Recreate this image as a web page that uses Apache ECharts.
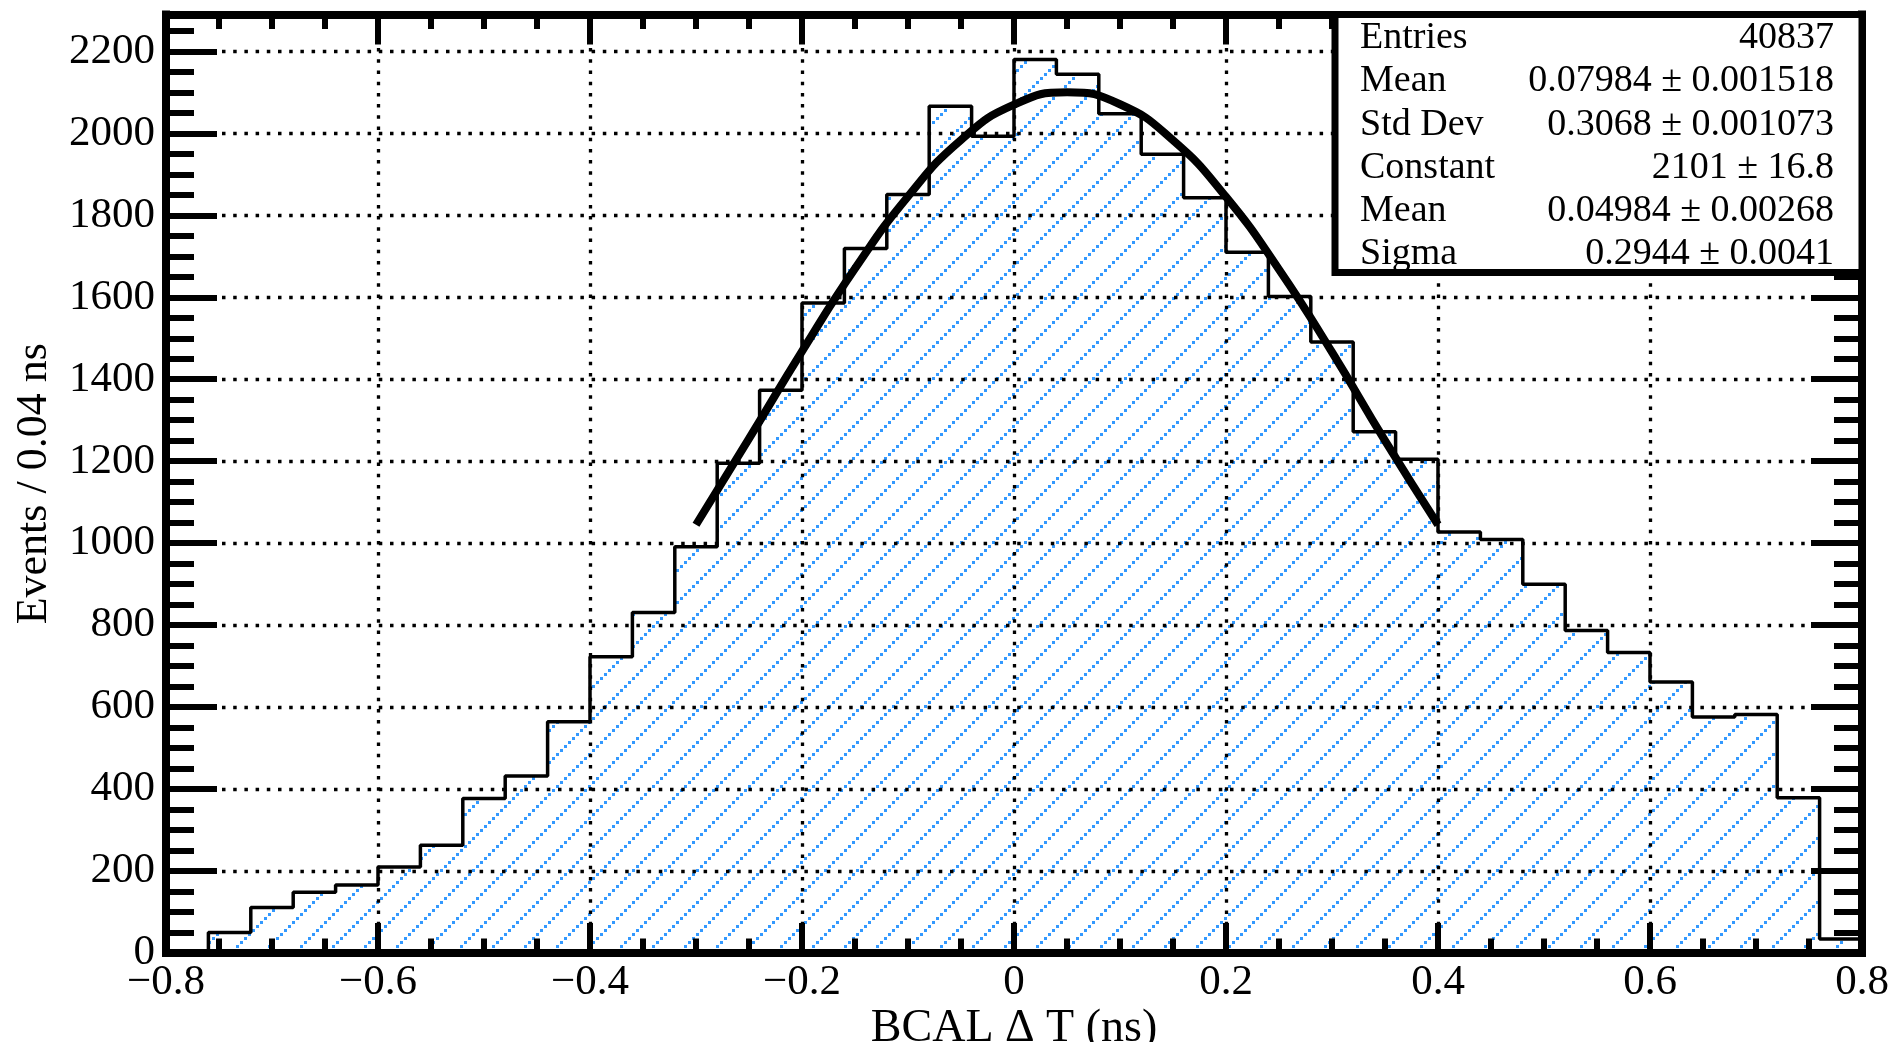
<!DOCTYPE html>
<html><head><meta charset="utf-8">
<script src="https://cdn.jsdelivr.net/npm/echarts@6/dist/echarts.min.js"></script>
<style>html,body{margin:0;padding:0;background:#fff}#c{width:1892px;height:1042px}</style>
</head><body><div id="c"></div>
<script>
// ---- data ----
const binLow = [-0.80,-0.76,-0.72,-0.68,-0.64,-0.60,-0.56,-0.52,-0.48,-0.44,
                -0.40,-0.36,-0.32,-0.28,-0.24,-0.20,-0.16,-0.12,-0.08,-0.04,
                 0.00, 0.04, 0.08, 0.12, 0.16, 0.20, 0.24, 0.28, 0.32, 0.36,
                 0.40, 0.44, 0.48, 0.52, 0.56, 0.60, 0.64, 0.68, 0.72, 0.76];
const binEnd = 0.80;
const counts = [0, 50, 111, 148, 166, 210, 263, 377, 432, 564,
                723, 831, 991, 1195, 1373, 1586, 1719, 1851, 2066, 1993,
                2180, 2144, 2048, 1949, 1843, 1710, 1602, 1491, 1272, 1205,
                1027, 1009, 900, 787, 733, 661, 576, 582, 379, 34];
const fitX = [-0.30,-0.25,-0.20,-0.15,-0.10,-0.05,0.00,0.05,0.10,0.15,0.20,0.25,0.30,0.35,0.40];
const fitY = [1045, 1255, 1468, 1670, 1846, 1984, 2070, 2100, 2071, 1983, 1845, 1668, 1466, 1250, 1045];
const statNames  = ['Entries', 'Mean', 'Std Dev', 'Constant', 'Mean', 'Sigma'];
const statValues = ['40837', '0.07984 \u00b1 0.001518', '0.3068 \u00b1 0.001073',
                    '2101 \u00b1 16.8', '0.04984 \u00b1 0.00268', '0.2944 \u00b1 0.0041'];
const xTitle = 'BCAL \u0394 T (ns)';
const yTitle = 'Events / 0.04 ns';

// ---- hatch pattern ----
function hatch() {
  const T = 32;
  const c = document.createElement('canvas');
  c.width = T; c.height = T;
  const g = c.getContext('2d');
  g.fillStyle = '#3399ff';
  for (let k = 0; k < T / 4; k++) g.fillRect(4 * k, T - 4 * k - 3, 3, 3);
  return c;
}

const histPts = binLow.map((x, i) => [x, counts[i]]).concat([[binEnd, counts[counts.length - 1]]]);
const fitPts = fitX.map((x, i) => [x, fitY[i]]);

const FONT = 'Liberation Serif';
const frameLine = { show: true, onZero: false, lineStyle: { color: '#000', width: 8, cap: 'square' } };
const dotted = { show: true, lineStyle: { color: '#000', width: 3.3, type: [3.5, 7.7] } };
const fmtX = v => { const s = String(+(+v).toFixed(2)); return s.replace('-', '\u2212'); };

const chart = echarts.init(document.getElementById('c'), null, { renderer: 'canvas' });
chart.setOption({
  animation: false,
  backgroundColor: '#fff',
  grid: { left: 166, right: 30, top: 14.5, bottom: 89, containLabel: false, outerBoundsMode: 'none' },
  xAxis: [
    { type: 'value', position: 'bottom', min: -0.8, max: 0.8, interval: 0.2, z: 3,
      axisLine: frameLine,
      axisTick: { show: true, inside: true, length: 30, lineStyle: { color: '#000', width: 6 } },
      minorTick: { show: true, splitNumber: 4, length: 14.5, lineStyle: { color: '#000', width: 6 } },
      splitLine: dotted,
      axisLabel: { show: true, margin: 8, color: '#000', fontFamily: FONT, fontSize: 43, formatter: fmtX },
      name: xTitle, nameLocation: 'middle', nameGap: 53, nameMoveOverlap: false,
      nameTextStyle: { color: '#000', fontFamily: FONT, fontSize: 46 } },
    { type: 'value', position: 'top', min: -0.8, max: 0.8, interval: 0.2, z: 3,
      axisLine: frameLine,
      axisTick: { show: true, inside: true, length: 30, lineStyle: { color: '#000', width: 6 } },
      minorTick: { show: true, splitNumber: 4, length: 14.5, lineStyle: { color: '#000', width: 6 } },
      splitLine: { show: false }, axisLabel: { show: false } }
  ],
  yAxis: [
    { type: 'value', position: 'left', min: 0, max: 2290, interval: 200, z: 3,
      axisLine: frameLine,
      axisTick: { show: true, inside: true, length: 51, lineStyle: { color: '#000', width: 6 } },
      splitLine: dotted,
      axisLabel: { show: true, margin: 11, showMaxLabel: false, color: '#000', fontFamily: FONT, fontSize: 43,
                   formatter: v => String(v) },
      name: yTitle, nameLocation: 'middle', nameGap: 110, nameMoveOverlap: false,
      nameTextStyle: { color: '#000', fontFamily: FONT, fontSize: 44 } },
    { type: 'value', position: 'right', min: 0, max: 2290, interval: 200, z: 3,
      axisLine: frameLine,
      axisTick: { show: true, inside: true, length: 51, lineStyle: { color: '#000', width: 6 } },
      splitLine: { show: false }, axisLabel: { show: false } },
    { type: 'value', position: 'left', min: 0, max: 2290, interval: 50, z: 3,
      axisLine: { show: false, onZero: false },
      axisTick: { show: true, inside: true, length: 28, lineStyle: { color: '#000', width: 6 } },
      splitLine: { show: false }, axisLabel: { show: false } },
    { type: 'value', position: 'right', min: 0, max: 2290, interval: 50, z: 3,
      axisLine: { show: false, onZero: false },
      axisTick: { show: true, inside: true, length: 28, lineStyle: { color: '#000', width: 6 } },
      splitLine: { show: false }, axisLabel: { show: false } }
  ],
  series: [
    { type: 'line', name: 'hist', xAxisIndex: 0, yAxisIndex: 0, data: histPts, step: 'end',
      symbol: 'none', z: 2, silent: true,
      lineStyle: { color: '#000', width: 3.5 },
      areaStyle: { color: { image: hatch(), repeat: 'repeat' }, opacity: 1 } },
    { type: 'line', name: 'fit', xAxisIndex: 0, yAxisIndex: 0, data: fitPts, smooth: true,
      symbol: 'none', z: 5, silent: true,
      lineStyle: { color: '#000', width: 8 } }
  ],
  graphic: [{
    type: 'group', z: 50,
    children: [
      { type: 'rect', z: 50, shape: { x: 1335, y: 14.5, width: 1862 - 1335, height: 272.5 - 14.5 },
        style: { fill: '#fff', stroke: '#000', lineWidth: 7 } }
    ].concat(statNames.map((t, i) => ({
      type: 'text', z: 51,
      style: { text: t, x: 1360, y: 38 + 43.3 * i, fill: '#000', font: '38px "' + FONT + '"',
               align: 'left', verticalAlign: 'middle' }
    }))).concat(statValues.map((t, i) => ({
      type: 'text', z: 51,
      style: { text: t, x: 1834, y: 38 + 43.3 * i, fill: '#000', font: '38px "' + FONT + '"',
               align: 'right', verticalAlign: 'middle' }
    })))
  }]
});
</script>
</body></html>
